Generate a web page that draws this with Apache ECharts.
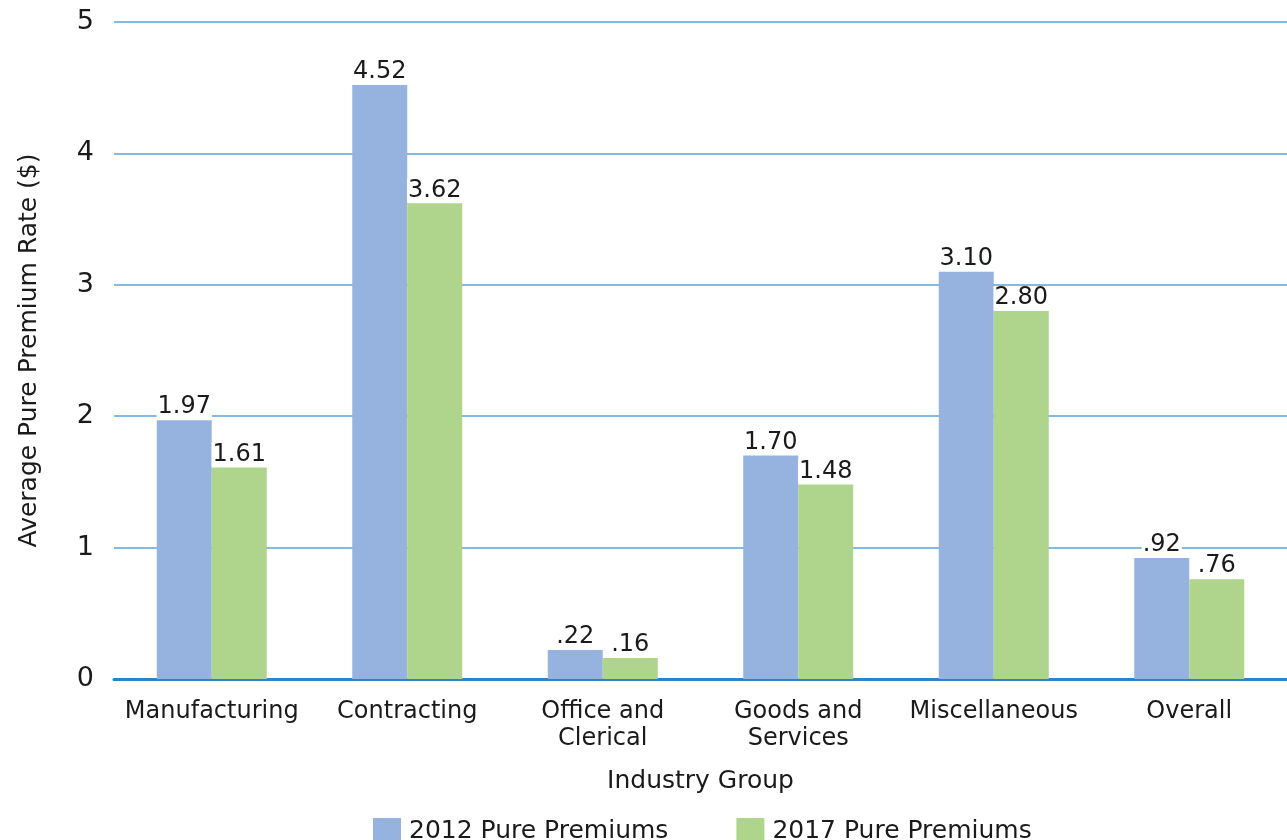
<!DOCTYPE html>
<html>
<head>
<meta charset="utf-8">
<script src="https://cdn.jsdelivr.net/npm/echarts@6/dist/echarts.min.js"></script>
<style>
  html, body { margin: 0; padding: 0; background: #fff; }
  #chart { width: 1287px; height: 840px; }
</style>
</head>
<body>
<div id="chart"></div>
<script>
const categories = ['Manufacturing', 'Contracting', 'Office and\nClerical', 'Goods and\nServices', 'Miscellaneous', 'Overall'];
const premiums2012 = [1.97, 4.52, 0.22, 1.70, 3.10, 0.92];
const premiums2017 = [1.61, 3.62, 0.16, 1.48, 2.80, 0.76];
const yTicks = [0, 1, 2, 3, 4, 5];

const font = 'DejaVu Sans';

// labels like ".22" when below 1
function fmt(p) {
  const s = p.value.toFixed(2);
  return p.value < 1 ? s.slice(1) : s;
}

const chart = echarts.init(document.getElementById('chart'));

const barLabel = {
  show: true,
  position: 'top',
  distance: 1,
  formatter: fmt,
  color: '#1a1a1a',
  fontFamily: font,
  fontSize: 24,
  backgroundColor: '#fff',
  padding: [0, 1, 0, 1]
};

const option = {
  backgroundColor: '#ffffff',
  animation: false,
  color: ['#95B3DE', '#AFD58C'],
  textStyle: { fontFamily: font },
  grid: { left: 114, top: 22, width: 1182, bottom: 161 },
  legend: {
    bottom: -9,
    left: 368,
    itemWidth: 28,
    itemHeight: 26,
    itemGap: 68,
    icon: 'rect',
    textStyle: { fontSize: 25, color: '#1a1a1a', fontFamily: font, padding: [0, 0, 0, 3] }
  },
  xAxis: {
    type: 'category',
    data: categories,
    name: 'Industry Group',
    nameLocation: 'middle',
    nameGap: 90,
    nameTextStyle: { fontSize: 25, color: '#1a1a1a', fontFamily: font },
    axisLine: { lineStyle: { color: '#2A84C6', width: 3 } },
    axisTick: { show: false },
    axisLabel: {
      fontSize: 24,
      color: '#1a1a1a',
      fontFamily: font,
      margin: 19,
      lineHeight: 27,
      interval: 0
    }
  },
  yAxis: {
    type: 'value',
    min: yTicks[0],
    max: yTicks[yTicks.length - 1],
    interval: 1,
    name: 'Average Pure Premium Rate ($)',
    nameLocation: 'middle',
    nameGap: 72,
    nameTextStyle: { fontSize: 25, color: '#1a1a1a', fontFamily: font },
    axisLine: { show: false },
    axisTick: { show: false },
    axisLabel: { fontSize: 27, color: '#1a1a1a', fontFamily: font, margin: 20 },
    splitLine: { lineStyle: { color: '#5BA3D9', width: 1.5 } }
  },
  series: [
    {
      name: '2012 Pure Premiums',
      type: 'bar',
      data: premiums2012,
      barWidth: 55,
      barGap: '0%',
      label: barLabel
    },
    {
      name: '2017 Pure Premiums',
      type: 'bar',
      data: premiums2017,
      barWidth: 55,
      barGap: '0%',
      label: barLabel
    }
  ]
};

chart.setOption(option);
</script>
</body>
</html>
